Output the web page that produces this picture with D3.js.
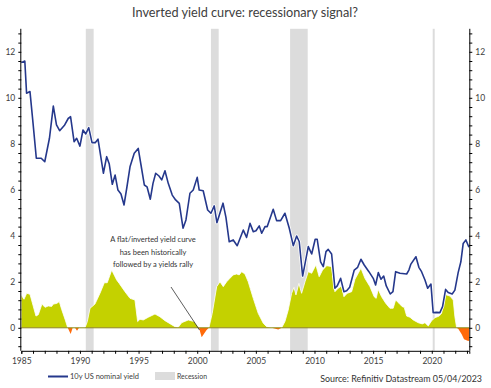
<!DOCTYPE html>
<html>
<head>
<meta charset="utf-8">
<script src="https://cdn.jsdelivr.net/npm/d3@7"></script>
<style>
  html, body { margin: 0; padding: 0; background: #fff; }
  svg { display: block; font-family: Lato, "Open Sans", sans-serif; }
</style>
</head>
<body>
<svg id="chart" width="491" height="388"></svg>
<script>
// ---------- DATA ----------
const yieldDates = [1985.0,1985.3,1985.45,1985.74,1986.0,1986.28,1986.7,1987.0,1987.4,1987.73,1988.0,1988.27,1988.7,1989.0,1989.2,1989.5,1989.72,1990.0,1990.26,1990.5,1990.75,1991.03,1991.3,1991.54,1992.0,1992.28,1992.5,1992.76,1993.0,1993.24,1993.5,1993.76,1994.0,1994.27,1994.63,1994.97,1995.2,1995.49,1995.72,1996.0,1996.23,1996.46,1996.74,1996.97,1997.25,1997.53,1997.87,1998.16,1998.47,1998.79,1999.04,1999.38,1999.66,2000.0,2000.17,2000.51,2000.89,2001.17,2001.45,2001.68,2002.2,2002.45,2002.73,2003.07,2003.41,2003.93,2004.21,2004.5,2004.78,2005.01,2005.29,2005.5,2005.78,2005.97,2006.48,2006.77,2007.11,2007.48,2007.85,2008.19,2008.48,2008.7,2008.99,2009.47,2009.76,2010.06,2010.23,2010.52,2010.75,2010.98,2011.17,2011.46,2011.74,2011.94,2012.23,2012.51,2012.74,2013.0,2013.39,2013.68,2013.96,2014.24,2014.64,2015.01,2015.21,2015.44,2015.67,2015.9,2016.12,2016.46,2016.69,2016.92,2017.29,2017.86,2018.05,2018.22,2018.65,2018.9,2019.13,2019.42,2019.65,2019.93,2020.12,2020.41,2020.69,2020.92,2021.18,2021.4,2021.74,2021.97,2022.25,2022.48,2022.68,2022.91,2023.17];
const yieldValues = [11.53,11.6,10.2,10.27,8.9,7.37,7.37,7.22,8.24,9.64,8.82,8.57,8.82,9.1,9.18,8.09,8.24,7.9,8.6,8.43,8.7,8.05,8.05,8.2,6.72,7.44,7.12,6.24,6.64,5.99,5.82,5.34,6.1,7.0,7.59,7.8,7.1,6.21,6.13,5.59,6.28,6.72,6.6,6.43,6.83,6.28,5.77,5.56,5.41,4.33,4.69,5.85,5.99,6.54,5.99,5.96,5.12,4.98,5.3,4.57,5.42,4.8,3.74,3.82,3.57,4.25,3.93,4.54,4.18,4.22,4.43,4.11,4.4,4.4,5.15,4.66,4.66,4.98,4.33,3.57,3.99,3.74,2.25,3.53,3.21,3.85,3.85,2.87,2.66,3.31,3.41,3.21,1.72,1.82,2.15,1.57,1.61,1.76,2.51,2.63,2.98,2.73,2.44,2.15,1.86,2.4,2.11,2.25,1.82,1.47,1.57,2.44,2.37,2.34,2.51,2.77,3.09,2.63,2.44,2.08,1.72,1.9,0.66,0.67,0.66,0.92,1.67,1.53,1.47,1.64,2.4,2.87,3.67,3.82,3.5];

const spreadDates = [1985.0,1985.23,1985.46,1985.74,1986.25,1986.45,1986.76,1987.02,1987.3,1987.59,1987.73,1988.02,1988.24,1988.44,1988.75,1988.96,1989.21,1989.38,1989.58,1989.75,1989.92,1990.43,1990.63,1990.86,1991.28,1991.71,1992.08,1992.33,1992.71,1993.13,1993.35,1993.84,1994.27,1994.69,1994.92,1995.12,1995.4,1995.83,1996.4,1996.82,1997.25,1998.1,1998.38,1998.67,1999.24,1999.75,2000.15,2000.38,2000.8,2001.0,2001.28,2001.66,2001.94,2002.22,2002.51,2002.79,2003.07,2003.36,2003.58,2003.79,2004.07,2004.35,2004.78,2005.2,2005.63,2005.92,2006.35,2006.91,2007.2,2007.48,2007.76,2008.05,2008.25,2008.42,2008.67,2008.9,2009.19,2009.47,2009.76,2010.12,2010.4,2010.69,2011.04,2011.46,2011.74,2012.02,2012.31,2012.51,2012.79,2013.17,2013.45,2013.96,2014.3,2014.73,2015.09,2015.26,2015.43,2015.72,2016.07,2016.43,2016.71,2016.92,2017.2,2017.48,2017.65,2017.86,2018.14,2018.42,2018.85,2019.19,2019.42,2019.7,2019.99,2020.27,2020.63,2020.84,2021.12,2021.26,2021.55,2021.83,2021.97,2022.12,2022.27,2022.55,2022.75,2023.11,2023.2];
const spreadValues = [1.43,1.24,1.5,1.46,0.51,0.57,1.03,0.89,0.95,0.93,1.03,1.06,1.14,0.8,0.34,0.0,-0.27,0,0,-0.13,0,0,0.27,0.85,1.03,1.5,1.96,1.96,2.51,2.08,1.93,1.57,1.28,1.21,0.27,0.37,0.34,0.46,0.6,0.48,0.31,0.05,0.02,0.22,0.34,0.27,0,-0.41,-0.1,0,0.63,1.79,2.0,1.79,2.0,2.15,2.3,2.34,2.3,2.44,2.34,2.0,1.28,0.63,0.2,0.05,0,-0.07,0,0.27,0.77,1.5,1.76,1.43,1.93,1.5,2.0,2.44,2.37,2.73,2.22,2.51,2.7,2.66,1.57,1.72,1.82,1.35,1.5,1.57,2.11,2.59,2.15,1.79,1.35,1.28,1.67,1.35,1.07,0.85,0.85,1.21,1.07,0.92,0.89,0.51,0.46,0.34,0.22,0.17,0.22,0.08,0.31,0.44,0.51,0.63,1.5,1.43,1.38,1.21,0.48,0,-0.05,-0.28,-0.5,-0.57,-0.55];

const recessionStarts = [1990.5, 2001.17, 2007.92, 2020.08];
const recessionEnds   = [1991.17, 2001.83, 2009.42, 2020.25];

const yTickLabels = [0, 2, 4, 6, 8, 10, 12];
const xTickLabels = [1985, 1990, 1995, 2000, 2005, 2010, 2015, 2020];

const titleText = "Inverted yield curve: recessionary signal?";
const legendLine = "10y US nominal yield";
const legendRecession = "Recession";
const sourceText = "Source: Refinitiv Datastream 05/04/2023";
const noteLines = ["A flat/inverted yield curve", "has been historically", "followed by a yields rally"];

// ---------- SETUP ----------
const svg = d3.select("#chart");
const pLeft = 21.3, pRight = 469.3, pTop = 28.8, pBottom = 350.8;
const x = d3.scaleLinear().domain([1985, 2023.2]).range([pLeft, pRight]);
const y = d3.scaleLinear().domain([-1, 13]).range([pBottom, pTop]);

const textColor = "#404040";
const fitText = (sel, w) => {
  sel.each(function () {
    const node = this;
    const fs = parseFloat(node.getAttribute("font-size"));
    const len = node.getComputedTextLength();
    if (len > 0) node.setAttribute("font-size", (fs * w / len).toFixed(2));
  });
};

// recession bars
svg.append("g").selectAll("rect")
  .data(recessionStarts.map((s, i) => [s, recessionEnds[i]]))
  .join("rect")
  .attr("x", d => x(d[0]))
  .attr("width", d => x(d[1]) - x(d[0]))
  .attr("y", y(13))
  .attr("height", y(-1) - y(13))
  .attr("fill", "#dcdcdc");

// spread area
const spread = spreadDates.map((d, i) => ({ d, v: spreadValues[i] }));
const defs = svg.append("defs");
defs.append("clipPath").attr("id", "above").append("rect")
  .attr("x", pLeft).attr("y", pTop).attr("width", pRight - pLeft).attr("height", y(0) - pTop);
defs.append("clipPath").attr("id", "below").append("rect")
  .attr("x", pLeft).attr("y", y(0)).attr("width", pRight - pLeft).attr("height", pBottom - y(0));

const area = d3.area().x(p => x(p.d)).y0(y(0)).y1(p => y(p.v));
svg.append("path").datum(spread).attr("d", area)
  .attr("fill", "#c4d100").attr("clip-path", "url(#above)");
svg.append("path").datum(spread).attr("d", area)
  .attr("fill", "#ff6a0a").attr("clip-path", "url(#below)");
svg.append("path").datum(spread)
  .attr("d", d3.line().x(p => x(p.d)).y(p => y(p.v)))
  .attr("fill", "none").attr("stroke", "#fff").attr("stroke-width", 0.8)
  .attr("clip-path", "url(#above)");

// zero line
svg.append("line")
  .attr("x1", pLeft).attr("x2", pRight).attr("y1", y(0)).attr("y2", y(0))
  .attr("stroke", "#8a8a1a").attr("stroke-width", 1);

// yield line
const yl = yieldDates.map((d, i) => ({ d, v: yieldValues[i] }));
svg.append("path").datum(yl)
  .attr("d", d3.line().x(p => x(p.d)).y(p => y(p.v)))
  .attr("fill", "none").attr("stroke", "#fff").attr("stroke-width", 3.2)
  .attr("stroke-linejoin", "round");
svg.append("path").datum(yl)
  .attr("d", d3.line().x(p => x(p.d)).y(p => y(p.v)))
  .attr("fill", "none").attr("stroke", "#25388c").attr("stroke-width", 1.6)
  .attr("stroke-linejoin", "round");

// axes
const minorY = d3.range(0, 35).map(k => Math.round((-0.8 + 0.4 * k) * 10) / 10);
const yLeft = d3.axisLeft(y).tickValues(minorY).tickSize(3)
  .tickFormat(v => yTickLabels.includes(v) ? String(v) : "");
const gL = svg.append("g").attr("transform", `translate(${pLeft},0)`).call(yLeft);
const yRight = d3.axisRight(y).tickValues(minorY).tickSize(3)
  .tickFormat(v => yTickLabels.includes(v) ? String(v) : "");
const gR = svg.append("g").attr("transform", `translate(${pRight},0)`).call(yRight);
const xAxis = d3.axisBottom(x).tickValues(d3.range(1985, 2024, 1)).tickSize(3)
  .tickFormat(v => xTickLabels.includes(v) ? String(v) : "");
const gX = svg.append("g").attr("transform", `translate(0,${pBottom})`).call(xAxis);

[gL, gR, gX].forEach(g => {
  g.select(".domain").attr("stroke", "#000").attr("stroke-width", 1);
  g.selectAll(".tick line").attr("stroke", "#000");
  g.selectAll(".tick text").attr("fill", textColor)
    .attr("font-size", 8.5).attr("font-family", "Lato, sans-serif");
});
gL.select(".domain").attr("d", `M-0.5,${y(13)}V${y(-1)}`);
gR.select(".domain").attr("d", `M0.5,${y(13)}V${y(-1)}`);
gL.selectAll(".tick text").attr("x", -6);
gR.selectAll(".tick text").attr("x", 6);
gX.selectAll(".tick text").attr("y", 7);

// title
svg.append("text").attr("x", 245).attr("y", 17)
  .attr("text-anchor", "middle").attr("font-size", 13).attr("fill", "#404040")
  .text(titleText).call(fitText, 226);

// annotation
svg.append("g").selectAll("text").data(noteLines).join("text")
  .attr("x", 153).attr("y", (d, i) => 242 + i * 12.5)
  .attr("text-anchor", "middle").attr("font-size", 7.5).attr("fill", "#333")
  .text(d => d);
svg.append("line")
  .attr("x1", 171).attr("y1", 287).attr("x2", 199.5).attr("y2", 330)
  .attr("stroke", "#333").attr("stroke-width", 0.8);

// legend
svg.append("line").attr("x1", 48).attr("x2", 68).attr("y1", 376.5).attr("y2", 376.5)
  .attr("stroke", "#25388c").attr("stroke-width", 2);
svg.append("text").attr("x", 70).attr("y", 379).attr("font-size", 7.5).attr("fill", textColor)
  .text(legendLine).call(fitText, 69);
svg.append("rect").attr("x", 155).attr("y", 372).attr("width", 20).attr("height", 8)
  .attr("fill", "#dcdcdc");
svg.append("text").attr("x", 177).attr("y", 379).attr("font-size", 7.5).attr("fill", textColor)
  .text(legendRecession).call(fitText, 30);
svg.append("text").attr("x", 482).attr("y", 382).attr("text-anchor", "end")
  .attr("font-size", 9).attr("fill", "#333")
  .text(sourceText).call(fitText, 162);
</script>
</body>
</html>
